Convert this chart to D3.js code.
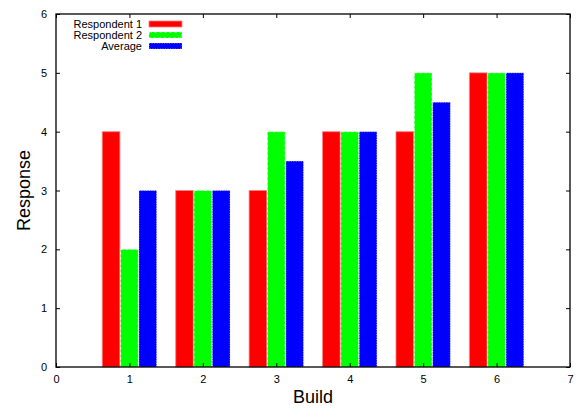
<!DOCTYPE html>
<html>
<head>
<meta charset="utf-8">
<script src="https://cdn.jsdelivr.net/npm/d3@7"></script>
<style>
  html, body { margin: 0; padding: 0; background: #fff; }
  svg { display: block; font-family: "Liberation Sans", Arial, Helvetica, sans-serif; }
</style>
</head>
<body>
<svg id="chart" width="577" height="410"></svg>
<script>
// Survey responses per build
const builds = [1, 2, 3, 4, 5, 6];
const respondent1 = [4, 3, 3, 4, 4, 5];
const respondent2 = [2, 3, 4, 4, 5, 5];
const average = [3, 3, 3.5, 4, 4.5, 5];
const seriesNames = ["Respondent 1", "Respondent 2", "Average"];
const seriesColors = ["#ff0000", "#00ff00", "#0000ff"];
const xTicks = [0, 1, 2, 3, 4, 5, 6, 7];
const yTicks = [0, 1, 2, 3, 4, 5, 6];

const series = [respondent1, respondent2, average];
const offsets = [-0.25, 0, 0.25];
const barWidth = 0.24;

const svg = d3.select("#chart");
const m = { left: 56, right: 570, top: 14, bottom: 367 };

const x = d3.scaleLinear().domain([0, 7]).range([m.left, m.right]);
const y = d3.scaleLinear().domain([0, 6]).range([m.bottom, m.top]);

// Bars
const dashes = ["none", "3,2", "1,1.5"];
series.forEach((vals, si) => {
  svg.append("g").selectAll("rect")
    .data(builds.map((b, i) => ({ b, v: vals[i] })))
    .join("rect")
    .attr("x", d => x(d.b + offsets[si] - barWidth / 2))
    .attr("y", d => y(d.v))
    .attr("width", d => x(d.b + offsets[si] + barWidth / 2) - x(d.b + offsets[si] - barWidth / 2))
    .attr("height", d => y(0) - y(d.v))
    .attr("fill", seriesColors[si])
    .attr("stroke", si === 0 ? "#ff8080" : "#ffffff")
    .attr("stroke-opacity", si === 0 ? 0.8 : 0.6)
    .attr("stroke-width", 1)
    .attr("stroke-dasharray", dashes[si]);
});

// Axes with inward ticks on all sides
const tickLen = 4;
const bottomAxis = d3.axisBottom(x).tickValues(xTicks).tickSizeInner(-tickLen).tickSizeOuter(0).tickPadding(8).tickFormat(d3.format("d"));
const leftAxis = d3.axisLeft(y).tickValues(yTicks).tickSizeInner(-tickLen).tickSizeOuter(0).tickPadding(9).tickFormat(d3.format("d"));
const topAxis = d3.axisTop(x).tickValues(xTicks).tickSizeInner(-tickLen).tickSizeOuter(0).tickFormat("");
const rightAxis = d3.axisRight(y).tickValues(yTicks).tickSizeInner(-tickLen).tickSizeOuter(0).tickFormat("");

function style(g) {
  g.select(".domain").remove();
  g.selectAll("line").attr("stroke", "#000");
  g.selectAll("text").attr("font-size", 11).attr("fill", "#000")
    .attr("font-family", "Liberation Sans, Arial, sans-serif");
}
svg.append("g").attr("transform", `translate(0,${m.bottom})`).call(bottomAxis).call(style);
svg.append("g").attr("transform", `translate(${m.left},0)`).call(leftAxis).call(style);
svg.append("g").attr("transform", `translate(0,${m.top})`).call(topAxis).call(style);
svg.append("g").attr("transform", `translate(${m.right},0)`).call(rightAxis).call(style);

// Frame
svg.append("rect")
  .attr("x", m.left).attr("y", m.top)
  .attr("width", m.right - m.left).attr("height", m.bottom - m.top)
  .attr("fill", "none").attr("stroke", "#000").attr("stroke-width", 1.3);

// Axis titles
svg.append("text")
  .attr("x", (m.left + m.right) / 2).attr("y", 403)
  .attr("text-anchor", "middle").attr("font-size", 18)
  .text("Build");
svg.append("text")
  .attr("transform", `translate(30,${(m.top + m.bottom) / 2}) rotate(-90)`)
  .attr("text-anchor", "middle").attr("font-size", 18)
  .text("Response");

// Legend
const legend = svg.append("g");
seriesNames.forEach((name, i) => {
  const cy = 24 + i * 11;
  legend.append("text")
    .attr("x", 142).attr("y", cy + 4)
    .attr("text-anchor", "end").attr("font-size", 11)
    .text(name);
  legend.append("rect")
    .attr("x", 149).attr("y", cy - 3)
    .attr("width", 33).attr("height", 6)
    .attr("fill", seriesColors[i])
    .attr("stroke", i === 0 ? "#ff8080" : "#ffffff")
    .attr("stroke-opacity", i === 0 ? 0.8 : 0.6)
    .attr("stroke-dasharray", dashes[i]);
});
</script>
</body>
</html>
